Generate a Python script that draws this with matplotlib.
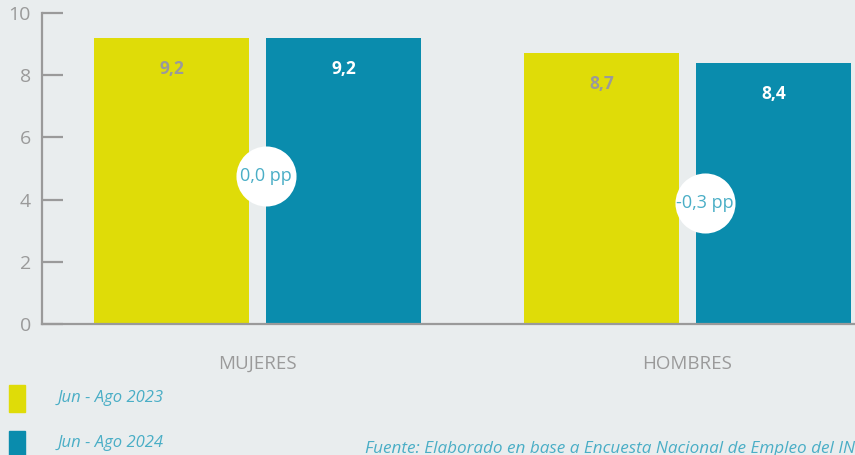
import numpy as np
import matplotlib
matplotlib.use("Agg")
import matplotlib.pyplot as plt
from matplotlib.patches import Rectangle

# data
categories = ["MUJERES", "HOMBRES"]
serie_2023 = [9.2, 8.7]
serie_2024 = [9.2, 8.4]
series_names = ["Jun - Ago 2023", "Jun - Ago 2024"]
diff_labels = ["0,0 pp", "-0,3 pp"]
diff_pos = [(0.02, 4.76), (1.04, 3.89)]
yticks = [0, 2, 4, 6, 8, 10]

bg = "#e9edee"
yellow = "#dfdc08"
teal = "#0a8cad"
gray = "#9a9a9a"
txt_blue = "#4aaec6"

plt.rcParams['font.family'] = ['Open Sans', 'DejaVu Sans']

fig = plt.figure(figsize=(8.55, 4.55), dpi=100, facecolor=bg)
ax = fig.add_axes([42/855, 131/455, 1 - 42/855, 311/455], facecolor=bg)

x = np.arange(len(categories))
off = 0.2
w = 0.36
b1 = ax.bar(x - off, serie_2023, width=w, color=yellow, zorder=2)
b2 = ax.bar(x + off, serie_2024, width=w, color=teal, zorder=2)

# value labels inside the bars
for rect, v in zip(b1, serie_2023):
    ax.annotate(f"{v:.1f}".replace(".", ","), (rect.get_x() + rect.get_width()/2, v),
                xytext=(0, -31), textcoords="offset pixels", ha="center", va="center",
                fontsize=12.5, fontweight="bold", color=gray, zorder=3)
for rect, v in zip(b2, serie_2024):
    ax.annotate(f"{v:.1f}".replace(".", ","), (rect.get_x() + rect.get_width()/2, v),
                xytext=(0, -31), textcoords="offset pixels", ha="center", va="center",
                fontsize=12.5, fontweight="bold", color="white", zorder=3)

# difference bubbles
for (cx, cy), lab in zip(diff_pos, diff_labels):
    ax.scatter([cx], [cy], s=1870, color="white", zorder=4, linewidths=0)
    ax.text(cx, cy, lab, ha="center", va="center", fontsize=13, color=txt_blue, zorder=5)

ax.set_xlim(-0.501, 1.39)
ax.set_ylim(0, 10)
ax.set_yticks(yticks)
ax.set_yticklabels([str(t) for t in yticks])
ax.set_xticks(x)
ax.set_xticklabels(categories)

for s in ["top", "right"]:
    ax.spines[s].set_visible(False)
ax.spines["left"].set_color(gray)
ax.spines["left"].set_linewidth(1.6)
ax.spines["bottom"].set_color(gray)
ax.spines["bottom"].set_linewidth(1.6)
ax.tick_params(axis="y", direction="in", length=15, width=1.6, color=gray,
               labelcolor=gray, labelsize=14, pad=8)
ax.tick_params(axis="x", length=0, labelcolor=gray, labelsize=13.5, pad=22)

# legend drawn by hand
fig.patches.append(Rectangle((9/855, 1 - 412/455), 16/855, 27/455,
                             transform=fig.transFigure, color=yellow))
fig.patches.append(Rectangle((9/855, 1 - 458/455), 16/855, 27/455,
                             transform=fig.transFigure, color=teal))
fig.text(58/855, 1 - 398/455, series_names[0], fontsize=12, style="italic",
         color=txt_blue, va="center")
fig.text(58/855, 1 - 443/455, series_names[1], fontsize=12, style="italic",
         color=txt_blue, va="center")
fig.text(365/855, 1 - 449/455, "Fuente: Elaborado en base a Encuesta Nacional de Empleo del INE",
         fontsize=12.3, style="italic", color=txt_blue, va="center")

fig.savefig("out.png", dpi=100, facecolor=bg)
